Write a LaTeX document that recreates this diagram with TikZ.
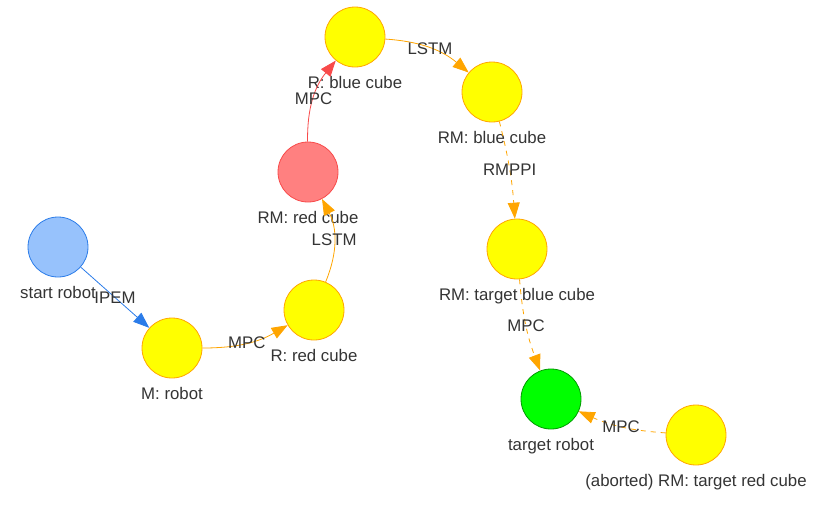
\documentclass[tikz,border=0pt]{standalone}
\usepackage{fontspec}
\setmainfont{Liberation Sans}
\usetikzlibrary{arrows.meta}
\definecolor{txtgray}{HTML}{343434}
\definecolor{vyellow}{HTML}{FFFF00}
\definecolor{vorange}{HTML}{FFA500}
\definecolor{vblue}{HTML}{97C2FC}
\definecolor{vblueline}{HTML}{2B7CE9}
\definecolor{vred}{HTML}{FF8080}
\definecolor{vredline}{HTML}{F84A4A}
\definecolor{vgreen}{HTML}{00FF00}
\definecolor{vgreenline}{HTML}{009900}

\begin{document}
\begin{tikzpicture}[x=1pt, y=-1pt,
    every node/.style={font=\fontsize{16.8}{19}\selectfont, text=txtgray},
    every label/.style={yshift=-5pt},
    state/.style={circle, minimum size=60pt, inner sep=0pt, line width=0.8pt,
        draw=vorange, fill=vyellow},
    startstate/.style={state, draw=vblueline, fill=vblue},
    redstate/.style={state, draw=vredline, fill=vred},
    goalstate/.style={state, draw=vgreenline, fill=vgreen},
    link/.style={-{Triangle[length=16pt, width=12pt]}, line width=0.8pt, draw=vorange},
    dashlink/.style={link, dash pattern=on 5pt off 5pt}
]
\useasboundingbox (0,0) rectangle (827,512);
\node[startstate, label=below:start robot] (start) at (58,247) {};
\node[state, label=below:{M: robot}] (mrobot) at (172,348) {};
\node[state, label=below:{R: red cube}] (rred) at (314,310) {};
\node[redstate, label=below:{RM: red cube}] (rmred) at (308,172) {};
\node[state, label=below:{R: blue cube}] (rblue) at (355,37) {};
\node[state, label=below:{RM: blue cube}] (rmblue) at (492,92) {};
\node[state, label=below:{RM: target blue cube}] (rmtblue) at (517,249) {};
\node[goalstate, label=below:target robot] (target) at (551,399) {};
\node[state, label=below:{(aborted) RM: target red cube}] (rmtred) at (696,435) {};
\draw
(start) edge[link, draw=vblueline] node{IPEM} (mrobot)
(mrobot) edge[link, bend right=15] node{MPC} (rred)
(rred) edge[link, bend right=25] node{LSTM} (rmred)
(rmred) edge[link, draw=vredline, bend left=20] node{MPC} (rblue)
(rblue) edge[link, bend left=18] node{LSTM} (rmblue)
(rmblue) edge[dashlink, bend left=5] node{RMPPI} (rmtblue)
(rmtblue) edge[dashlink, bend right=8] node{MPC} (target)
(rmtred) edge[dashlink, bend left=10] node{MPC} (target);
\end{tikzpicture}
\end{document}
